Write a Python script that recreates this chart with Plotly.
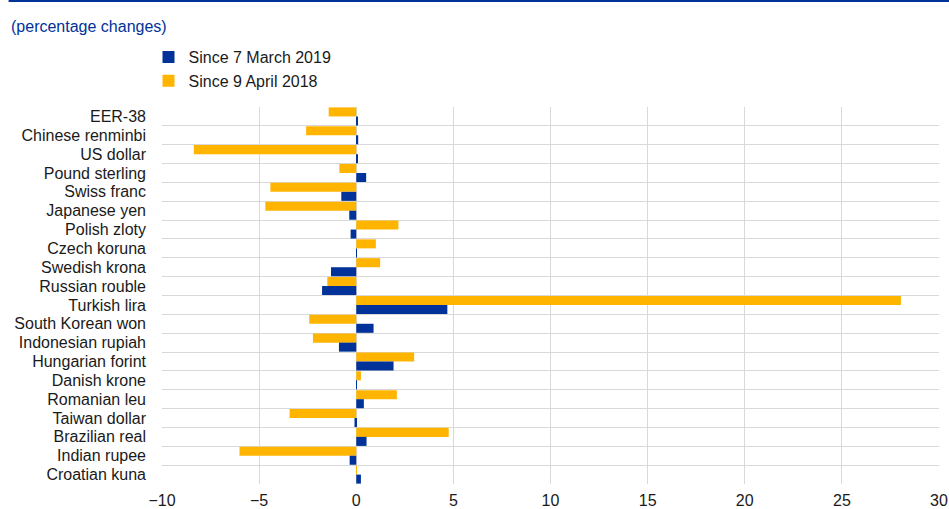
import plotly.graph_objects as go

categories = ["EER-38", "Chinese renminbi", "US dollar", "Pound sterling", "Swiss franc",
              "Japanese yen", "Polish zloty", "Czech koruna", "Swedish krona", "Russian rouble",
              "Turkish lira", "South Korean won", "Indonesian rupiah", "Hungarian forint",
              "Danish krone", "Romanian leu", "Taiwan dollar", "Brazilian real",
              "Indian rupee", "Croatian kuna"]

since_mar2019 = [0.08, 0.1, 0.05, 0.51, -0.77, -0.36, -0.29, 0.02, -1.30, -1.76,
                 4.69, 0.89, -0.89, 1.92, 0.02, 0.39, -0.09, 0.53, -0.34, 0.24]
since_apr2018 = [-1.42, -2.58, -8.36, -0.87, -4.42, -4.68, 2.17, 1.01, 1.23, -1.49,
                 28.04, -2.42, -2.23, 2.98, 0.24, 2.09, -3.43, 4.76, -6.01, 0.02]

x_ticks = [-10, -5, 0, 5, 10, 15, 20, 25, 30]

BLUE = "#003299"
YELLOW = "#FFB400"
FONT = "Liberation Sans, Arial, sans-serif"
TXT = "#1a1a1a"

fig = go.Figure()
fig.add_trace(go.Bar(y=categories, x=since_apr2018, orientation="h", name="Since 9 April 2018",
                     marker=dict(color=YELLOW, line=dict(width=0)), legendrank=2))
fig.add_trace(go.Bar(y=categories, x=since_mar2019, orientation="h", name="Since 7 March 2019",
                     marker=dict(color=BLUE, line=dict(width=0)), legendrank=1))

W, H = 949, 509
L, R, T, B = 161.5, 10, 107, 25
pw = W - L - R
ph = H - T - B

def px(xf):
    return (xf - L) / pw

def py(yf):
    return 1 + (T - yf) / ph

fig.update_layout(
    width=W, height=H,
    margin=dict(l=L, r=R, t=T, b=B, autoexpand=False),
    paper_bgcolor="white", plot_bgcolor="white",
    font=dict(family=FONT, size=16, color=TXT),
    barmode="group", bargap=0.04, bargroupgap=0.0,
    showlegend=True,
    legend=dict(x=px(148), y=py(40), xanchor="left", yanchor="top",
                bgcolor="rgba(0,0,0,0)", font=dict(size=16, color=TXT),
                tracegroupgap=0, itemwidth=30),
    xaxis=dict(range=[-10, 30], tickvals=x_ticks, showgrid=True, gridcolor="#d9d9d9",
               gridwidth=1, zeroline=False, showline=False, ticks="", automargin=False,
               ticklabelstandoff=5, tickfont=dict(size=16, color=TXT)),
    yaxis=dict(autorange="reversed", type="category", tickson="boundaries",
               tickmode="array", tickvals=categories, ticktext=categories,
               showgrid=True, gridcolor="#d9d9d9", gridwidth=1, ticks="", automargin=False,
               showline=False, zeroline=False, ticklabelstandoff=15,
               tickfont=dict(size=16, color=TXT)),
    annotations=[dict(text="(percentage changes)", xref="paper", yref="paper",
                      x=px(8), y=py(27), xanchor="left", yanchor="middle",
                      showarrow=False, font=dict(size=16, color=BLUE, family=FONT))],
    shapes=[dict(type="line", xref="paper", yref="paper",
                 x0=px(8), x1=px(W), y0=py(1), y1=py(1),
                 line=dict(color=BLUE, width=2))],
)

fig.write_html("out.html", config={"displayModeBar": False},
               post_script="document.body.style.margin='0';")
